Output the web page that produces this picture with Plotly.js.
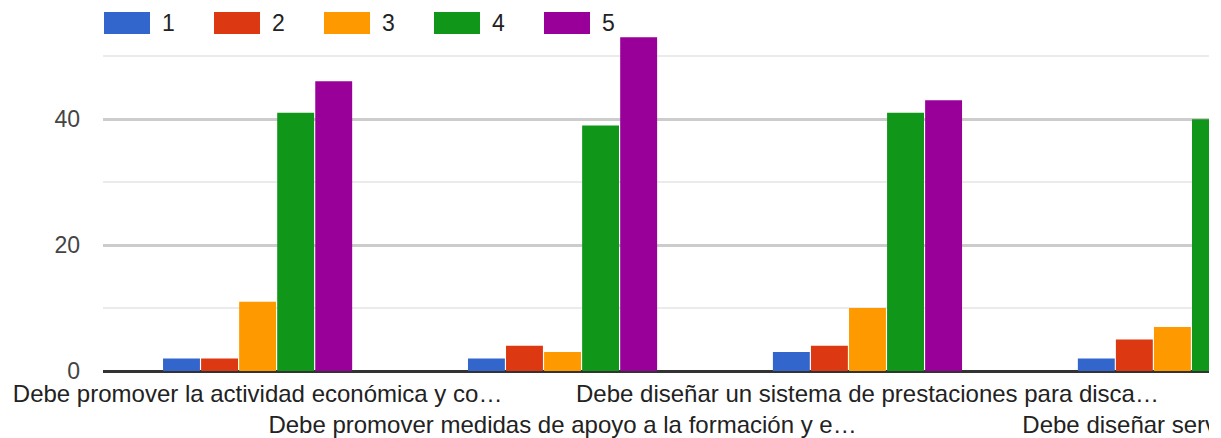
<!DOCTYPE html>
<html>
<head>
<meta charset="utf-8">
<script src="https://cdn.plot.ly/plotly-3.0.1.min.js"></script>
<style>
  html, body { margin: 0; padding: 0; background: #fff; overflow: hidden; }
  #chart { width: 1209px; height: 438px; overflow: hidden; }
</style>
</head>
<body>
<div id="chart"></div>
<script>
// ---- data ----
const categories = [
  "Debe promover la actividad económica y co…",
  "Debe promover medidas de apoyo a la formación y e…",
  "Debe diseñar un sistema de prestaciones para disca…",
  "Debe diseñar servicios de…"
];
const seriesNames = ["1", "2", "3", "4", "5"];
const seriesColors = ["#3366cc", "#dc3912", "#ff9900", "#109618", "#990099"];
const s1 = [2, 2, 3, 2];
const s2 = [2, 4, 4, 5];
const s3 = [11, 3, 10, 7];
const s4 = [41, 39, 41, 40];
const s5 = [46, 53, 43, 44];
const seriesValues = [s1, s2, s3, s4, s5];
const yTicks = [0, 20, 40];

// ---- layout geometry ----
const W = 1209, H = 438;
const L = 103, R = 0, T = 31, B = 67;
const plotW = W - L - R, plotH = H - T - B;
const px2x = px => (px - L) / plotW;
const px2y = py => (H - B - py) / plotH;

const traces = seriesValues.map((vals, i) => ({
  type: "bar",
  name: seriesNames[i],
  x: categories.map((c, k) => k),
  y: vals,
  marker: { color: seriesColors[i] },
  showlegend: false,
  hoverinfo: "skip"
}));

// custom legend built from series arrays
const shapes = [];
const annotations = [];
seriesNames.forEach((n, i) => {
  const x0 = 104 + 110 * i;
  shapes.push({
    type: "rect", xref: "paper", yref: "paper",
    x0: px2x(x0), x1: px2x(x0 + 46),
    y0: px2y(34), y1: px2y(12),
    fillcolor: seriesColors[i], line: { width: 0 }
  });
  annotations.push({
    xref: "paper", yref: "paper",
    x: px2x(x0 + 56), y: px2y(23),
    xanchor: "left", yanchor: "middle",
    text: n, showarrow: false,
    font: { family: "Arial, 'Liberation Sans', sans-serif", size: 23, color: "#222" }
  });
});

const tickText = categories.map((c, k) => (k % 2 === 1 ? "<br>" + c : c));

const layout = {
  width: W, height: H,
  margin: { l: L, r: R, t: T, b: B, pad: 0 },
  paper_bgcolor: "#fff",
  plot_bgcolor: "#fff",
  barmode: "group",
  bargap: 0.376,
  bargroupgap: 0.03,
  showlegend: false,
  font: { family: "Arial, 'Liberation Sans', sans-serif" },
  xaxis: {
    type: "linear",
    range: [-0.507, 3.12],
    tickmode: "array",
    tickvals: categories.map((c, k) => k),
    ticktext: tickText,
    tickangle: 0,
    ticklabeloverflow: "allow",
    showgrid: false,
    zeroline: false,
    showline: false,
    ticks: "",
    automargin: false,
    ticklabelstandoff: 6,
    tickfont: { size: 24, color: "#222" }
  },
  yaxis: {
    range: [0, 54],
    tickmode: "array",
    tickvals: yTicks,
    ticktext: yTicks.map(String),
    showgrid: true,
    gridcolor: "#cccccc",
    gridwidth: 3,
    minor: { tickmode: "array", tickvals: [10, 30, 50], showgrid: true, gridcolor: "#ebebeb", gridwidth: 2.5, ticks: "" },
    zeroline: true,
    zerolinecolor: "#333333",
    zerolinewidth: 3,
    showline: false,
    ticks: "",
    automargin: false,
    ticklabelstandoff: 22,
    tickfont: { size: 23, color: "#444" }
  },
  shapes: shapes,
  annotations: annotations
};

Plotly.newPlot("chart", traces, layout, { displayModeBar: false, staticPlot: true });
</script>
</body>
</html>
